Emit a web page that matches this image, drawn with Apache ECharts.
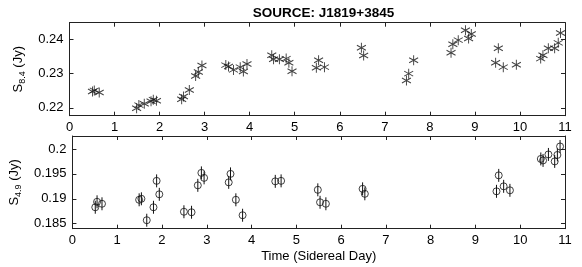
<!DOCTYPE html>
<html><head><meta charset="utf-8">
<script src="https://cdn.jsdelivr.net/npm/echarts@6/dist/echarts.min.js"></script>
<style>html,body{margin:0;padding:0;background:#fff}#c{width:582px;height:267px}</style>
</head><body><div id="c"></div>
<script>
const titleText = 'SOURCE: J1819+3845';
const xTicks = [0,1,2,3,4,5,6,7,8,9,10,11];
const yTicksTop = [0.22, 0.23, 0.24];
const yTicksBottom = [0.185, 0.19, 0.195, 0.2];

const time84 = [0.51,0.55,0.66, 1.49,1.54,1.66,1.81,1.86,1.93, 2.49,2.53,2.66,2.80,2.86,2.94,
  3.47,3.53,3.64,3.79,3.86,3.94, 4.49,4.53,4.66,4.81,4.87,4.94, 5.48,5.53,5.66, 6.48,6.53,
  7.48,7.53,7.64, 8.47,8.51,8.63,8.79,8.86,8.92, 9.46,9.52,9.63,9.92, 10.46,10.51,10.63,10.77,10.85,10.90];
const flux84 = [0.2248,0.2251,0.2245, 0.2199,0.2208,0.2212,0.2219,0.2224,0.2221, 0.2225,0.2233,0.2252,0.2293,0.2305,0.2324,
  0.2325,0.2321,0.2311,0.2319,0.2306,0.2328, 0.2354,0.2342,0.2342,0.2344,0.2332,0.2307, 0.2317,0.2339,0.2319, 0.2376,0.2353,
  0.2280,0.2300,0.2339, 0.2361,0.2386,0.2398,0.2427,0.2403,0.2416, 0.2332,0.2374,0.2319,0.2326, 0.2344,0.2354,0.2374,0.2374,0.2390,0.2419];

const time49 = [0.51,0.55,0.66, 1.49,1.54,1.66,1.81,1.88,1.94, 2.49,2.66,2.80,2.88,2.94,
  3.49,3.53,3.65,3.80, 4.53,4.66, 5.48,5.53,5.66, 6.48,6.53, 9.47,9.52,9.63,9.77,
  10.46,10.51,10.63,10.77,10.83,10.89];
const flux49 = [0.1883,0.1894,0.1890, 0.1898,0.1900,0.1857,0.1883,0.1936,0.1909, 0.1874,0.1873,0.1927,0.1952,0.1942,
  0.1933,0.1950,0.1898,0.1867, 0.1935,0.1936, 0.1918,0.1893,0.1890, 0.1920,0.1910, 0.1915,0.1947,0.1925,0.1917,
  0.1980,0.1977,0.1989,0.1975,0.1988,0.2005];
const err49 = [0.0013,0.0013,0.0013, 0.0013,0.0013,0.0013,0.0013,0.0013,0.0013, 0.0013,0.0013,0.0013,0.0013,0.0013,
  0.0013,0.0013,0.0013,0.0013, 0.0013,0.0013, 0.0013,0.0013,0.0013, 0.0013,0.0013, 0.0013,0.0013,0.0013,0.0013,
  0.0013,0.0013,0.0013,0.0013,0.0013,0.0013];

const FONT = '"Liberation Sans", Arial, Helvetica, sans-serif';
const AX = '#222';
const fmt = v => String(parseFloat(Number(v).toFixed(4)));

function xAx(grid, pos, labels, extra) {
  return Object.assign({
    type: 'value', gridIndex: grid, position: pos, min: 0, max: 11, interval: 1,
    axisLine: { show: true, onZero: false, lineStyle: { color: AX, width: 1 } },
    axisTick: { show: true, inside: true, length: 4, lineStyle: { color: AX } },
    axisLabel: { show: labels, color: '#000', fontFamily: FONT, fontSize: 13, margin: 5 },
    splitLine: { show: false }
  }, extra || {});
}
function yAx(grid, pos, labels, min, max, ticks, extra) {
  return Object.assign({
    type: 'value', gridIndex: grid, position: pos, min: min, max: max,
    axisLine: { show: true, onZero: false, lineStyle: { color: AX, width: 1 } },
    axisTick: { show: true, inside: true, length: 4, lineStyle: { color: AX }, customValues: ticks },
    axisLabel: { show: labels, color: '#000', fontFamily: FONT, fontSize: 13, margin: 6, formatter: fmt, customValues: ticks },
    splitLine: { show: false }
  }, extra || {});
}

const top84 = time84.map((t, i) => [t, flux84[i]]);
const bot49 = time49.map((t, i) => [t, flux49[i], err49[i]]);

const chart = echarts.init(document.getElementById('c'), null, { renderer: 'canvas' });
chart.setOption({
  animation: false,
  backgroundColor: '#fff',
  title: { text: titleText, left: 318.5, textAlign: 'center', top: 1,
    textStyle: { fontFamily: FONT, fontSize: 13.5, fontWeight: 'bold', color: '#000' } },
  grid: [
    { left: 69.5, right: 17, top: 22.7, height: 93, containLabel: false },
    { left: 69.5, right: 17, top: 136, height: 92.7, containLabel: false }
  ],
  xAxis: [
    xAx(0, 'bottom', true),
    xAx(0, 'top', false),
    xAx(1, 'bottom', true, { name: 'Time (Sidereal Day)', nameLocation: 'middle', nameGap: 21,
      nameTextStyle: { fontFamily: FONT, fontSize: 13, color: '#000' } }),
    xAx(1, 'top', false)
  ],
  yAxis: [
    yAx(0, 'left', true, 0.2177, 0.2449, yTicksTop, { name: '{a|S}{b|8.4}{a| (Jy)}', nameLocation: 'middle', nameGap: 42, nameRotate: 90,
      nameTextStyle: { rich: { a: { fontFamily: FONT, fontSize: 13, color: '#000' }, b: { fontFamily: FONT, fontSize: 9, color: '#000', verticalAlign: 'bottom', padding: [8,0,0,0] } } } }),
    yAx(0, 'right', false, 0.2177, 0.2449, yTicksTop),
    yAx(1, 'left', true, 0.184, 0.2026, yTicksBottom, { name: '{a|S}{b|4.9}{a| (Jy)}', nameLocation: 'middle', nameGap: 45, nameRotate: 90,
      nameTextStyle: { rich: { a: { fontFamily: FONT, fontSize: 13, color: '#000' }, b: { fontFamily: FONT, fontSize: 9, color: '#000', verticalAlign: 'bottom', padding: [8,0,0,0] } } } }),
    yAx(1, 'right', false, 0.184, 0.2026, yTicksBottom)
  ],
  series: [
    {
      type: 'scatter', xAxisIndex: 0, yAxisIndex: 0, data: top84,
      symbol: 'path://M0,-5L0,5M-4.3,-2.5L4.3,2.5M-4.3,2.5L4.3,-2.5',
      symbolSize: [9, 10],
      itemStyle: { color: 'none', borderColor: '#111', borderWidth: 1 }
    },
    {
      type: 'custom', xAxisIndex: 2, yAxisIndex: 2, data: bot49,
      renderItem: function (params, api) {
        const x = api.value(0), y = api.value(1), e = api.value(2);
        const p1 = api.coord([x, y - e]);
        const p2 = api.coord([x, y + e]);
        return { type: 'line', shape: { x1: p1[0], y1: p1[1], x2: p2[0], y2: p2[1] },
          style: { stroke: '#111', lineWidth: 1 } };
      },
      z: 1
    },
    {
      type: 'scatter', xAxisIndex: 2, yAxisIndex: 2, data: bot49,
      symbol: 'circle', symbolSize: 7,
      itemStyle: { color: 'rgba(0,0,0,0)', borderColor: '#111', borderWidth: 1 },
      z: 2
    }
  ]
});
</script></body></html>
